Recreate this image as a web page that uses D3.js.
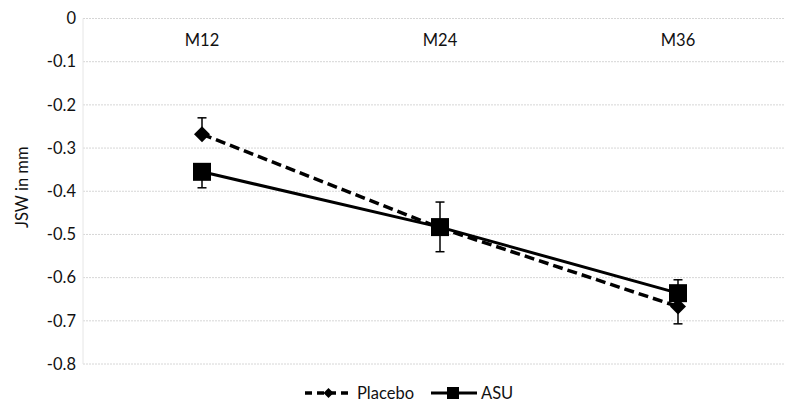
<!DOCTYPE html>
<html><head><meta charset="utf-8">
<script src="https://cdn.jsdelivr.net/npm/d3@7"></script>
<style>body{margin:0;background:#fff}svg{display:block}text{font-family:Lato,"Open Sans",sans-serif;fill:#111}</style>
</head><body><svg id="c" width="785" height="407"></svg>
<script>
const categories = ["M12", "M24", "M36"];
const placebo = [-0.268, -0.485, -0.667];
const placeboErr = [0.038, 0.06, 0.040];
const placeboErrDir = [1, 1, -1];
const asu = [-0.355, -0.483, -0.636];
const asuErr = [0.037, 0.057, 0.031];
const asuErrDir = [-1, -1, 1];
const yTicks = [0, -0.1, -0.2, -0.3, -0.4, -0.5, -0.6, -0.7, -0.8];

(function () {
const svg = d3.select("#c");
const pL = 83, pR = 797, pT = 18.5, pB = 364;
const FS = 16.5;
const x = d3.scaleBand().domain(categories).range([pL, pR]);
const y = d3.scaleLinear().domain([-0.8, 0]).range([pB, pT]);
const cx = c => x(c) + x.bandwidth() / 2;

// gridlines
svg.append("g").selectAll("line").data(yTicks).join("line")
  .attr("x1", pL).attr("x2", pR)
  .attr("y1", d => y(d)).attr("y2", d => y(d))
  .attr("stroke", "#d6d6d6").attr("stroke-width", 1).attr("stroke-dasharray", "2,1");
svg.append("line").attr("x1", pL).attr("x2", pL).attr("y1", pT).attr("y2", pB)
  .attr("stroke", "#e6e6e6").attr("stroke-width", 1);

// y axis
const yAxis = d3.axisLeft(y).tickValues(yTicks).tickSize(0).tickPadding(6)
  .tickFormat(d => d === 0 ? "0" : d3.format(".1f")(d).replace("−", "-"));
const gy = svg.append("g").attr("transform", `translate(${pL},0)`).call(yAxis);
gy.select(".domain").remove();
gy.selectAll("text").attr("font-size", FS).attr("font-family", "Lato, sans-serif").attr("fill", "#111").attr("x", -7);

// category axis (top)
const xAxis = d3.axisBottom(x).tickSize(0).tickPadding(16);
const gx = svg.append("g").attr("transform", `translate(0,${y(0)})`).call(xAxis);
gx.select(".domain").remove();
gx.selectAll("text").attr("font-size", FS).attr("font-family", "Lato, sans-serif").attr("fill", "#111");

// y title
svg.append("text").attr("transform", `translate(22,${(pT + pB) / 2 - 4}) rotate(-90)`)
  .attr("text-anchor", "middle").attr("dy", "0.35em").attr("font-size", FS).text("JSW in mm");

const line = d3.line().x(d => cx(d[0])).y(d => y(d[1]));
const pData = categories.map((c, i) => [c, placebo[i], placeboErr[i], placeboErrDir[i]]);
const aData = categories.map((c, i) => [c, asu[i], asuErr[i], asuErrDir[i]]);

function errBars(data) {
  const g = svg.append("g").attr("stroke", "#000").attr("stroke-width", 1.5);
  data.forEach(d => {
    const X = cx(d[0]);
    const end = d[1] + d[3] * d[2];
    g.append("line").attr("x1", X).attr("x2", X).attr("y1", y(d[1])).attr("y2", y(end));
    g.append("line").attr("x1", X - 4.5).attr("x2", X + 4.5).attr("y1", y(end)).attr("y2", y(end));
  });
}
errBars(pData);
errBars(aData);

svg.append("path").datum(pData).attr("d", line).attr("fill", "none").attr("stroke", "#000")
  .attr("stroke-width", 3.5).attr("stroke-dasharray", "10,5");
svg.append("path").datum(aData).attr("d", line).attr("fill", "none").attr("stroke", "#000")
  .attr("stroke-width", 3);

const diamond = (X, Y, r) => `M${X},${Y - r}L${X + r},${Y}L${X},${Y + r}L${X - r},${Y}Z`;
svg.append("g").selectAll("path").data(pData).join("path")
  .attr("d", d => diamond(cx(d[0]), y(d[1]), 8)).attr("fill", "#000");
svg.append("g").selectAll("rect").data(aData).join("rect")
  .attr("x", d => cx(d[0]) - 9).attr("y", d => y(d[1]) - 9)
  .attr("width", 18).attr("height", 18).attr("fill", "#000");

// legend
const ly = 393;
const lg = svg.append("g");
lg.append("line").attr("x1", 305).attr("x2", 352).attr("y1", ly).attr("y2", ly)
  .attr("stroke", "#000").attr("stroke-width", 3.5).attr("stroke-dasharray", "7,5");
lg.append("path").attr("d", diamond(328.5, ly, 5)).attr("fill", "#000");
lg.append("text").attr("x", 357).attr("y", ly).attr("dy", "0.35em").attr("font-size", FS).text("Placebo");
lg.append("line").attr("x1", 431).attr("x2", 477).attr("y1", ly).attr("y2", ly)
  .attr("stroke", "#000").attr("stroke-width", 3);
lg.append("rect").attr("x", 447).attr("y", ly - 6).attr("width", 12).attr("height", 12).attr("fill", "#000");
lg.append("text").attr("x", 481).attr("y", ly).attr("dy", "0.35em").attr("font-size", FS).text("ASU");
})();
</script></body></html>
